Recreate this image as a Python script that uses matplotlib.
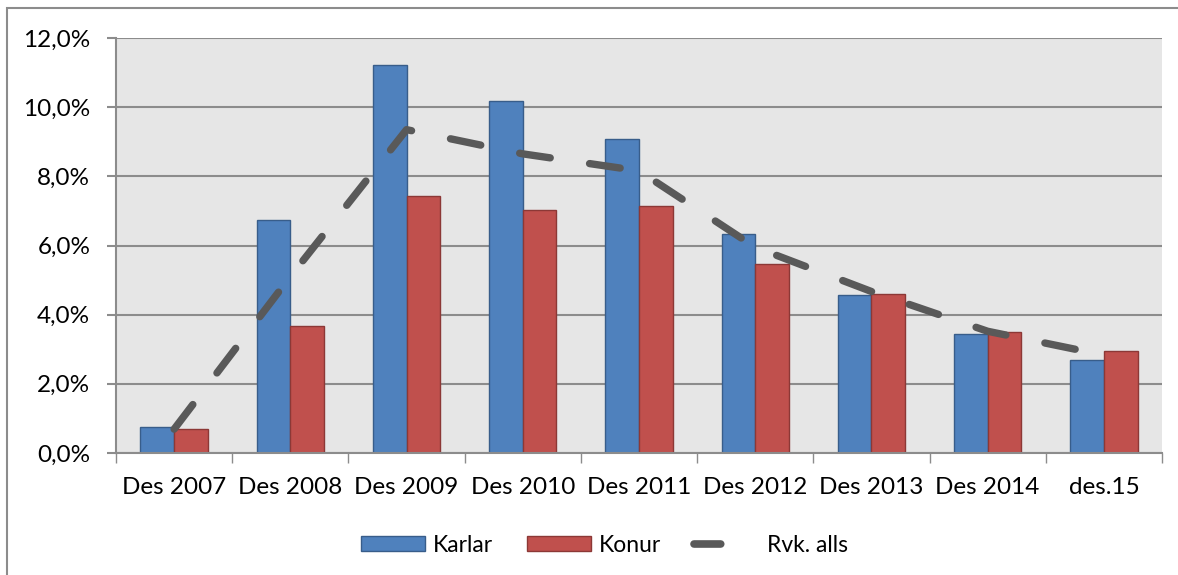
import matplotlib.pyplot as plt
import numpy as np
from matplotlib.patches import Rectangle
from matplotlib.lines import Line2D
from matplotlib.ticker import FuncFormatter

# data (percent)
categories = ['Des 2007', 'Des 2008', 'Des 2009', 'Des 2010', 'Des 2011',
              'Des 2012', 'Des 2013', 'Des 2014', 'des.15']
karlar = [0.75, 6.74, 11.23, 10.17, 9.09, 6.34, 4.56, 3.44, 2.69]
konur = [0.69, 3.68, 7.44, 7.03, 7.15, 5.47, 4.60, 3.51, 2.94]
rvk_alls = [0.69, 5.10, 9.35, 8.65, 8.16, 5.95, 4.67, 3.52, 2.83]
yticks = [0, 2, 4, 6, 8, 10, 12]

plt.rcParams['font.family'] = ['Lato', 'DejaVu Sans']

W, H = 1178, 575
fig = plt.figure(figsize=(W / 100, H / 100), dpi=100)

# outer chart frame (cropped at right and bottom)
fig.patches.append(Rectangle((7 / W, -0.05), 1.1, (H - 8) / H + 0.05,
                             transform=fig.transFigure, fill=False,
                             edgecolor='#8c8c8c', linewidth=1.5))

left, right, top, bottom = 116, 1162, 38, 453
ax = fig.add_axes([left / W, 1 - bottom / H, (right - left) / W, (bottom - top) / H])
ax.set_facecolor('#e6e6e6')

x = np.arange(len(categories))
bw = 0.29
ax.bar(x - bw / 2, karlar, bw, color='#4f81bd', edgecolor='#385d8a', linewidth=1, zorder=2)
ax.bar(x + bw / 2, konur, bw, color='#c0504d', edgecolor='#8c3836', linewidth=1, zorder=2)
ax.plot(x, rvk_alls, color='#595959', linewidth=5.3, dashes=(4.2, 5.4),
        dash_capstyle='round', solid_capstyle='round', zorder=3)

ax.set_xlim(-0.5, len(categories) - 0.5)
ax.set_ylim(0, 12)
ax.set_yticks(yticks)
ax.yaxis.set_major_formatter(FuncFormatter(lambda v, p: f'{v:.1f}%'.replace('.', ',')))
ax.grid(axis='y', color='#8c8c8c', linewidth=1.5, zorder=1)
ax.set_axisbelow(True)

ax.set_xticks(x)
ax.set_xticklabels(categories)
ax.set_xticks(np.arange(len(categories) + 1) - 0.5, minor=True)
ax.tick_params(axis='x', which='major', length=0, pad=17, labelsize=17.5)
ax.tick_params(axis='x', which='minor', length=7, color='#8c8c8c', width=1)
ax.tick_params(axis='y', length=6.5, color='#8c8c8c', width=1.5, pad=12, labelsize=17.5)

for s in ['top', 'right']:
    ax.spines[s].set_visible(False)
for s in ['left', 'bottom']:
    ax.spines[s].set_color('#8c8c8c')
    ax.spines[s].set_linewidth(1.5)

handles = [Rectangle((0, 0), 1, 1, facecolor='#4f81bd', edgecolor='#385d8a'),
           Rectangle((0, 0), 1, 1, facecolor='#c0504d', edgecolor='#8c3836'),
           Line2D([], [], color='#595959', linewidth=5.5, dashes=(3.5, 100),
                  dash_capstyle='round')]
fig.legend(handles, ['Karlar', 'Konur', 'Rvk. alls'], loc='center',
           bbox_to_anchor=(0.513, 1 - 545 / H), ncol=3, frameon=False,
           fontsize=16.5, handlelength=2.8, handleheight=0.6, handletextpad=0.35,
           columnspacing=1.45)

fig.savefig('out.png', dpi=100)
